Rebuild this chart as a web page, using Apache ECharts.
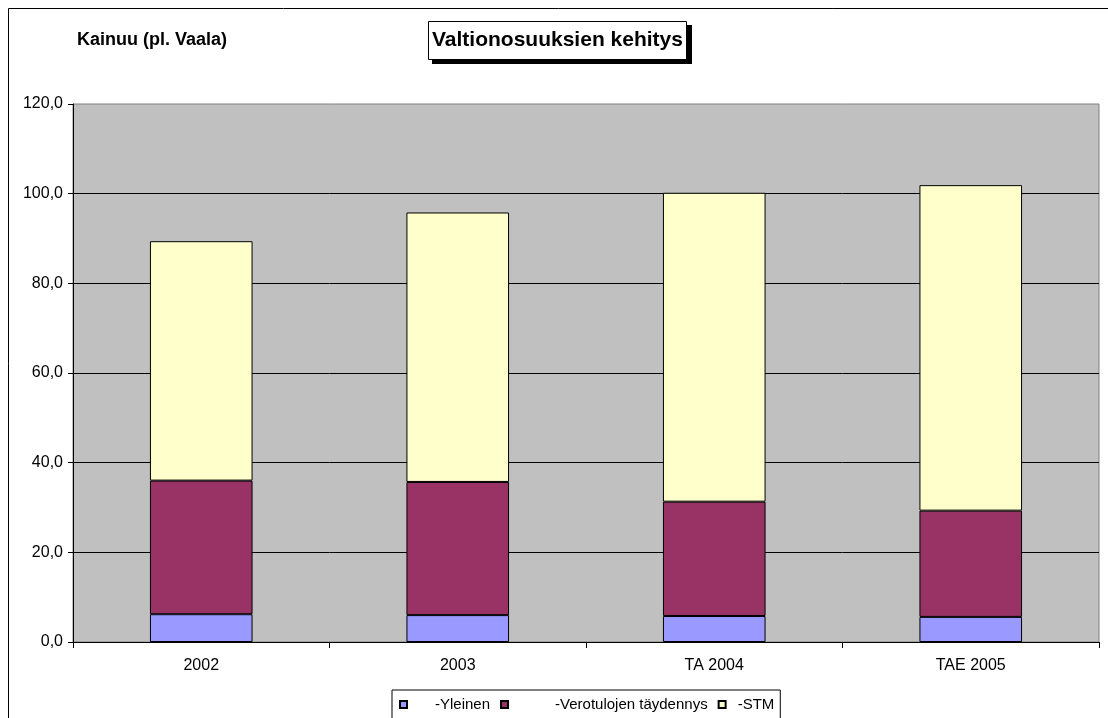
<!DOCTYPE html>
<html>
<head>
<meta charset="utf-8">
<script src="https://cdn.jsdelivr.net/npm/echarts@6/dist/echarts.min.js"></script>
<style>
  html, body { margin: 0; padding: 0; background: #fff; }
  #chart { width: 1108px; height: 718px; }
</style>
</head>
<body>
<div id="chart"></div>
<script>
const years = ['2002', '2003', 'TA 2004', 'TAE 2005']
const yleinen = [6.2, 6.0, 5.8, 5.6]
const verotulot = [29.8, 29.7, 25.5, 23.7]
const stm = [53.4, 60.1, 68.9, 72.6]
const yTicks = [0, 20, 40, 60, 80, 100, 120]

const font = '"Liberation Sans", Arial, sans-serif'
// legend text offset from marker (Excel pads these differently)
const legendGap = { '-Yleinen': 'a', '-Verotulojen täydennys': 'b', '-STM': 'c' }

const chart = echarts.init(document.getElementById('chart'))

function barSeries(name, data, color) {
  return {
    name: name,
    type: 'bar',
    stack: 'total',
    barWidth: '40%',
    data: data,
    itemStyle: { color: color, borderColor: '#000', borderWidth: 1 }
  }
}

chart.setOption({
  animation: false,
  textStyle: { fontFamily: font },
  title: [
    {
      text: 'Valtionosuuksien kehitys',
      left: 428,
      top: 21,
      padding: [9, 4, 9, 4],
      backgroundColor: '#fff',
      borderColor: '#000',
      borderWidth: 1,
      textStyle: { fontFamily: font, fontSize: 21, fontWeight: 'bold', color: '#000', lineHeight: 21 }
    },
    {
      text: 'Kainuu (pl. Vaala)',
      left: 77,
      top: 31,
      padding: 0,
      textStyle: { fontFamily: font, fontSize: 18, fontWeight: 'bold', color: '#000' }
    }
  ],
  graphic: [
    {
      // outer chart border
      type: 'rect',
      z: 0,
      shape: { x: 8.5, y: 8.5, width: 1200, height: 800 },
      style: { fill: 'none', stroke: '#000', lineWidth: 1 },
      silent: true
    },
    {
      // drop shadow of title box
      type: 'rect',
      z: 1,
      shape: { x: 432, y: 25, width: 260, height: 39 },
      style: { fill: '#000' },
      silent: true
    }
  ],
  legend: {
    left: 392,
    top: 690,
    padding: [7, 6, 8, 7],
    itemGap: 10,
    itemWidth: 7,
    itemHeight: 7,
    icon: 'rect',
    backgroundColor: '#fff',
    borderColor: '#000',
    borderWidth: 1,
    borderRadius: 0,
    formatter: function (name) {
      return '{' + legendGap[name] + '|}' + name
    },
    textStyle: {
      fontFamily: font,
      fontSize: 15,
      color: '#000',
      rich: {
        a: { width: 23 },
        b: { width: 42 },
        c: { width: 7 }
      }
    }
  },
  grid: {
    left: 73,
    right: 9,
    top: 104,
    bottom: 76,
    show: true,
    backgroundColor: '#c0c0c0',
    borderColor: '#808080',
    borderWidth: 1
  },
  xAxis: {
    type: 'category',
    data: years,
    axisLine: { lineStyle: { color: '#000', width: 1 } },
    axisTick: { show: true, length: 6, lineStyle: { color: '#000' } },
    axisLabel: { color: '#000', fontSize: 16, margin: 16, fontFamily: font }
  },
  yAxis: {
    type: 'value',
    min: yTicks[0],
    max: yTicks[yTicks.length - 1],
    interval: yTicks[1] - yTicks[0],
    axisLine: { show: true, lineStyle: { color: '#000', width: 1 } },
    axisTick: { show: true, length: 5, lineStyle: { color: '#000' } },
    axisLabel: {
      color: '#000',
      fontSize: 16,
      margin: 10,
      fontFamily: font,
      formatter: function (v) { return v.toFixed(1).replace('.', ',') }
    },
    splitLine: { show: true, showMaxLine: false, lineStyle: { color: '#000', width: 1 } }
  },
  series: [
    barSeries('-Yleinen', yleinen, '#9999ff'),
    barSeries('-Verotulojen täydennys', verotulot, '#993366'),
    barSeries('-STM', stm, '#ffffcc')
  ]
})
</script>
</body>
</html>
